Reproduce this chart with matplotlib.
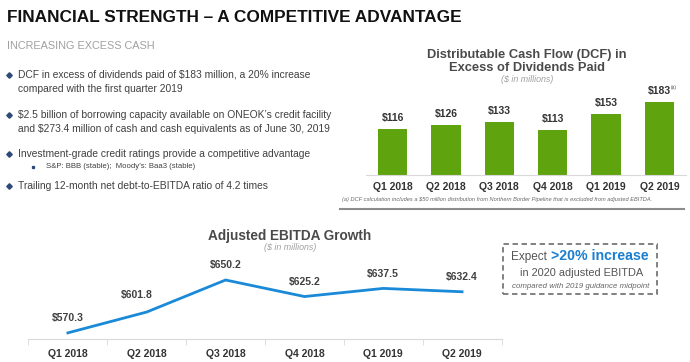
import matplotlib
matplotlib.use("Agg")
import matplotlib.pyplot as plt
from matplotlib.patches import Rectangle
from matplotlib.lines import Line2D

# ---------------- data ----------------
quarters = ["Q1 2018", "Q2 2018", "Q3 2018", "Q4 2018", "Q1 2019", "Q2 2019"]
dcf_values = [116, 126, 133, 113, 153, 183]
dcf_labels = ["$116", "$126", "$133", "$113", "$153", "$183"]
ebitda_values = [570.3, 601.8, 650.2, 625.2, 637.5, 632.4]
ebitda_labels = ["$570.3", "$601.8", "$650.2", "$625.2", "$637.5", "$632.4"]

title = "FINANCIAL STRENGTH \u2013 A COMPETITIVE ADVANTAGE"
subtitle = "INCREASING EXCESS CASH"
bullets = [
    ["DCF in excess of dividends paid of $183 million, a 20% increase",
     "compared with the first quarter 2019"],
    ["$2.5 billion of borrowing capacity available on ONEOK\u2019s credit facility",
     "and $273.4 million of cash and cash equivalents as of June 30, 2019"],
    ["Investment-grade credit ratings provide a competitive advantage"],
    ["Trailing 12-month net debt-to-EBITDA ratio of 4.2 times"],
]
sub_bullet = "S&P: BBB (stable);  Moody\u2019s: Baa3 (stable)"
footnote = "(a) DCF calculation includes a $50 million distribution from Northern Border Pipeline that is excluded from adjusted EBITDA."

W, H = 690, 362
fig = plt.figure(figsize=(W / 100, H / 100), dpi=100)
fig.patch.set_facecolor("white")

SANS = ["Liberation Sans", "DejaVu Sans"]


def esc(s):
    return s.replace("$", r"\$")


def ftxt(x, y, s, **kw):
    return fig.text(x / W, 1 - y / H, esc(s), **kw)


def add_ax(l, t, r, b):
    return fig.add_axes([l / W, 1 - b / H, (r - l) / W, (b - t) / H])


def fmark(x, y, **kw):
    fig.add_artist(Line2D([x / W], [1 - y / H], transform=fig.transFigure,
                          ls="none", **kw))

# ---------------- header ----------------
ftxt(7, 18, title, fontsize=12.4, fontweight="bold", family=SANS,
     color="#111111", va="center", ha="left")
ftxt(7, 46, subtitle, fontsize=7.8, family=SANS, color="#a0a0a0",
     va="center", ha="left")

# ---------------- bullets ----------------
text_col = "#404040"
navy = "#2e4a7a"
ys = [[75, 89], [115, 129], [154], [186]]
for lines, yl in zip(bullets, ys):
    fmark(9, yl[0], marker="D", ms=2.8, color=navy)
    for s, y in zip(lines, yl):
        ftxt(18, y, s, fontsize=7.4, family=SANS, color=text_col,
             va="center", ha="left")
fmark(33, 167, marker="s", ms=1.4, color=navy)
ftxt(46, 167, sub_bullet, fontsize=5.6, family=SANS, color=text_col,
     va="center", ha="left")

# ---------------- DCF bar chart ----------------
green = "#5fa30f"
axb = add_ax(366, 95, 686, 175)
x = list(range(len(quarters)))
axb.bar(x, dcf_values, width=0.55, color=green)
axb.set_xlim(-0.5, 5.5)
axb.set_ylim(0, 200)
axb.set_yticks([])
for sp in ["top", "right", "left"]:
    axb.spines[sp].set_visible(False)
axb.spines["bottom"].set_color("#d9d9d9")
axb.set_xticks(x)
axb.set_xticklabels(quarters, fontsize=7.5, fontweight="bold", family=SANS,
                    color="#333333")
axb.tick_params(axis="x", length=0, pad=5)
for xi, v, lab in zip(x, dcf_values, dcf_labels):
    t = axb.annotate(esc(lab), (xi, v), xytext=(0, 4), textcoords="offset points",
                     ha="center", va="bottom", fontsize=7.5, fontweight="bold",
                     family=SANS, color="#333333")
axb.annotate("(a)", xy=(1, 0.65), xycoords=t, fontsize=3.5, color="#555555",
             ha="left", va="bottom", family=SANS)

ftxt(527, 55, "Distributable Cash Flow (DCF) in", fontsize=9.3, fontweight="bold",
     family=SANS, color="#4a4a4a", ha="center", va="center")
ftxt(527, 68, "Excess of Dividends Paid", fontsize=9.3, fontweight="bold",
     family=SANS, color="#4a4a4a", ha="center", va="center")
ftxt(527, 80, "($ in millions)", fontsize=6.4, style="italic",
     family=SANS, color="#a0a0a0", ha="center", va="center")
ftxt(342, 199, footnote, fontsize=4.1, style="italic", family=SANS,
     color="#666666", ha="left", va="center")
fig.add_artist(Line2D([340 / W, 684 / W], [1 - 209 / H, 1 - 209 / H],
                      transform=fig.transFigure, color="#8c8c8c", lw=1.5))

# ---------------- EBITDA line chart ----------------
blue = "#1a8ad8"
axl = add_ax(28.5, 255, 501.5, 339)
axl.plot(x, ebitda_values, color=blue, lw=2, solid_joinstyle="miter")
axl.set_xlim(-0.5, 5.5)
axl.set_ylim(561, 688)
axl.set_yticks([])
for sp in ["top", "right", "left"]:
    axl.spines[sp].set_visible(False)
axl.spines["bottom"].set_color("#d9d9d9")
axl.set_xticks(x)
axl.set_xticklabels(quarters, fontsize=7.5, fontweight="bold", family=SANS,
                    color="#333333")
axl.set_xticks([i - 0.5 for i in range(7)], minor=True)
axl.tick_params(axis="x", which="major", length=0, pad=7)
axl.tick_params(axis="x", which="minor", length=4, color="#d9d9d9")
offs = [(0, 7), (-7, 9), (0, 7), (0, 7), (0, 7), (0, 7)]
for xi, v, lab, o in zip(x, ebitda_values, ebitda_labels, offs):
    axl.annotate(esc(lab), (xi, v), xytext=o, textcoords="offset points",
                 ha="center", va="bottom", fontsize=7.5, fontweight="bold",
                 family=SANS, color="#404040")

ftxt(290, 236, "Adjusted EBITDA Growth", fontsize=9.8, fontweight="bold",
     family=SANS, color="#4a4a4a", ha="center", va="center")
ftxt(290, 248, "($ in millions)", fontsize=6.4, style="italic",
     family=SANS, color="#a0a0a0", ha="center", va="center")

# ---------------- callout box ----------------
fig.add_artist(Rectangle((503 / W, 1 - 294 / H), 154 / W, 50 / H,
                         transform=fig.transFigure, fill=False,
                         edgecolor="#777777", lw=1.3, ls=(0, (3, 2))))
ftxt(550, 257, "Expect ", fontsize=8.5, family=SANS, color="#555555",
     ha="right", va="center")
ftxt(551, 256, ">20% increase", fontsize=10.2, fontweight="bold", family=SANS,
     color="#1a7fd0", ha="left", va="center")
ftxt(582, 273, "in 2020 adjusted EBITDA", fontsize=7.9, family=SANS,
     color="#555555", ha="center", va="center")
ftxt(581, 287, "compared with 2019 guidance midpoint", fontsize=5.7,
     style="italic", family=SANS, color="#666666", ha="center", va="center")

fig.savefig("out.png", dpi=100, facecolor="white")
